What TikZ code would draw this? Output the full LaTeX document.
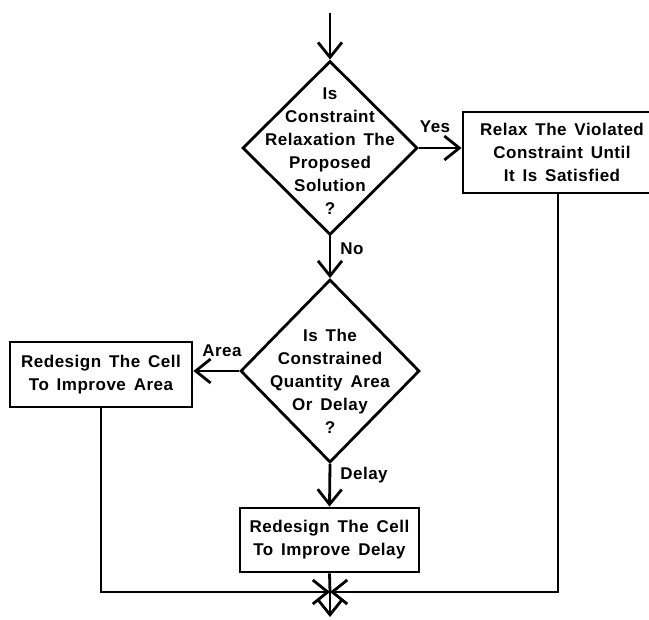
\documentclass[tikz,border=0pt]{standalone}
\usepackage{fontspec}
\newfontfamily\chartfont{Liberation Sans}[LetterSpace=3,WordSpace=1.5]
\usetikzlibrary{arrows.meta,shapes.geometric}
\begin{document}
\begin{tikzpicture}[x=1pt,y=-1pt]
\tikzset{
  line/.style={line width=2.8pt, line join=miter},
  flow/.style={line, -{Straight Barb[length=15pt,width=24pt]}},
  txt/.style={font=\chartfont\bfseries\fontsize{17}{23}\selectfont, align=center, inner sep=0pt},
  boxnode/.style={draw, line width=2.8pt, txt},
  decision/.style={draw, diamond, line width=2.8pt, inner sep=0pt},
  lbl/.style={font=\chartfont\bfseries\fontsize{17}{20}\selectfont, anchor=base, inner sep=0pt},
}
\useasboundingbox (0,0) rectangle (649,620);
\clip (0,0) rectangle (649,620);

% decisions
\node[decision, minimum width=175pt, minimum height=174pt] (d1) at (330,148) {};
\node[txt] (d1t) at (330,151) {Is\\Constraint\\Relaxation The\\Proposed\\Solution\\?};
\node[decision, minimum width=179pt, minimum height=183pt] (d2) at (330,371) {};
\node[txt] (d2t) at (330,381) {Is The\\Constrained\\Quantity  Area\\Or Delay\\?};

% actions
\node[boxnode, minimum width=198pt, minimum height=81pt] (b1) at (562,152.5)
  {Relax The Violated\\Constraint  Until\\It  Is  Satisfied};
\node[boxnode, minimum width=182pt, minimum height=65pt] (b2) at (101,374.5)
  {Redesign The Cell\\To  Improve  Area};
\node[boxnode, minimum width=179pt, minimum height=64pt] (b3) at (329.5,540)
  {Redesign The Cell\\To  Improve  Delay};

% branch labels
\node[lbl] (yes) at (435,133) {Yes};
\node[lbl] (no) at (352,255) {No};
\node[lbl] (area) at (222,357) {Area};
\node[lbl] (delay) at (364,480) {Delay};

% connectors
\coordinate (start) at (330,13);
\coordinate (merge) at (330,592);
\coordinate (finish) at (330,617);
\draw[flow] (start) -- (d1.north);
\draw[flow] (d1.east) -- (d1.east -| b1.west);
\draw[flow] (d1.south) -- (d2.north);
\draw[flow] (d2.west) -- (d2.west -| b2.east);
\draw[flow] (d2.south) -- (b3.north);
\draw[line] (b3.south) -- (merge);
\draw[flow] (b2.south) |- (merge);
\draw[flow] ([xshift=-4pt]b1.south) |- (merge);
\draw[flow] (merge) -- (finish);
\end{tikzpicture}
\end{document}
